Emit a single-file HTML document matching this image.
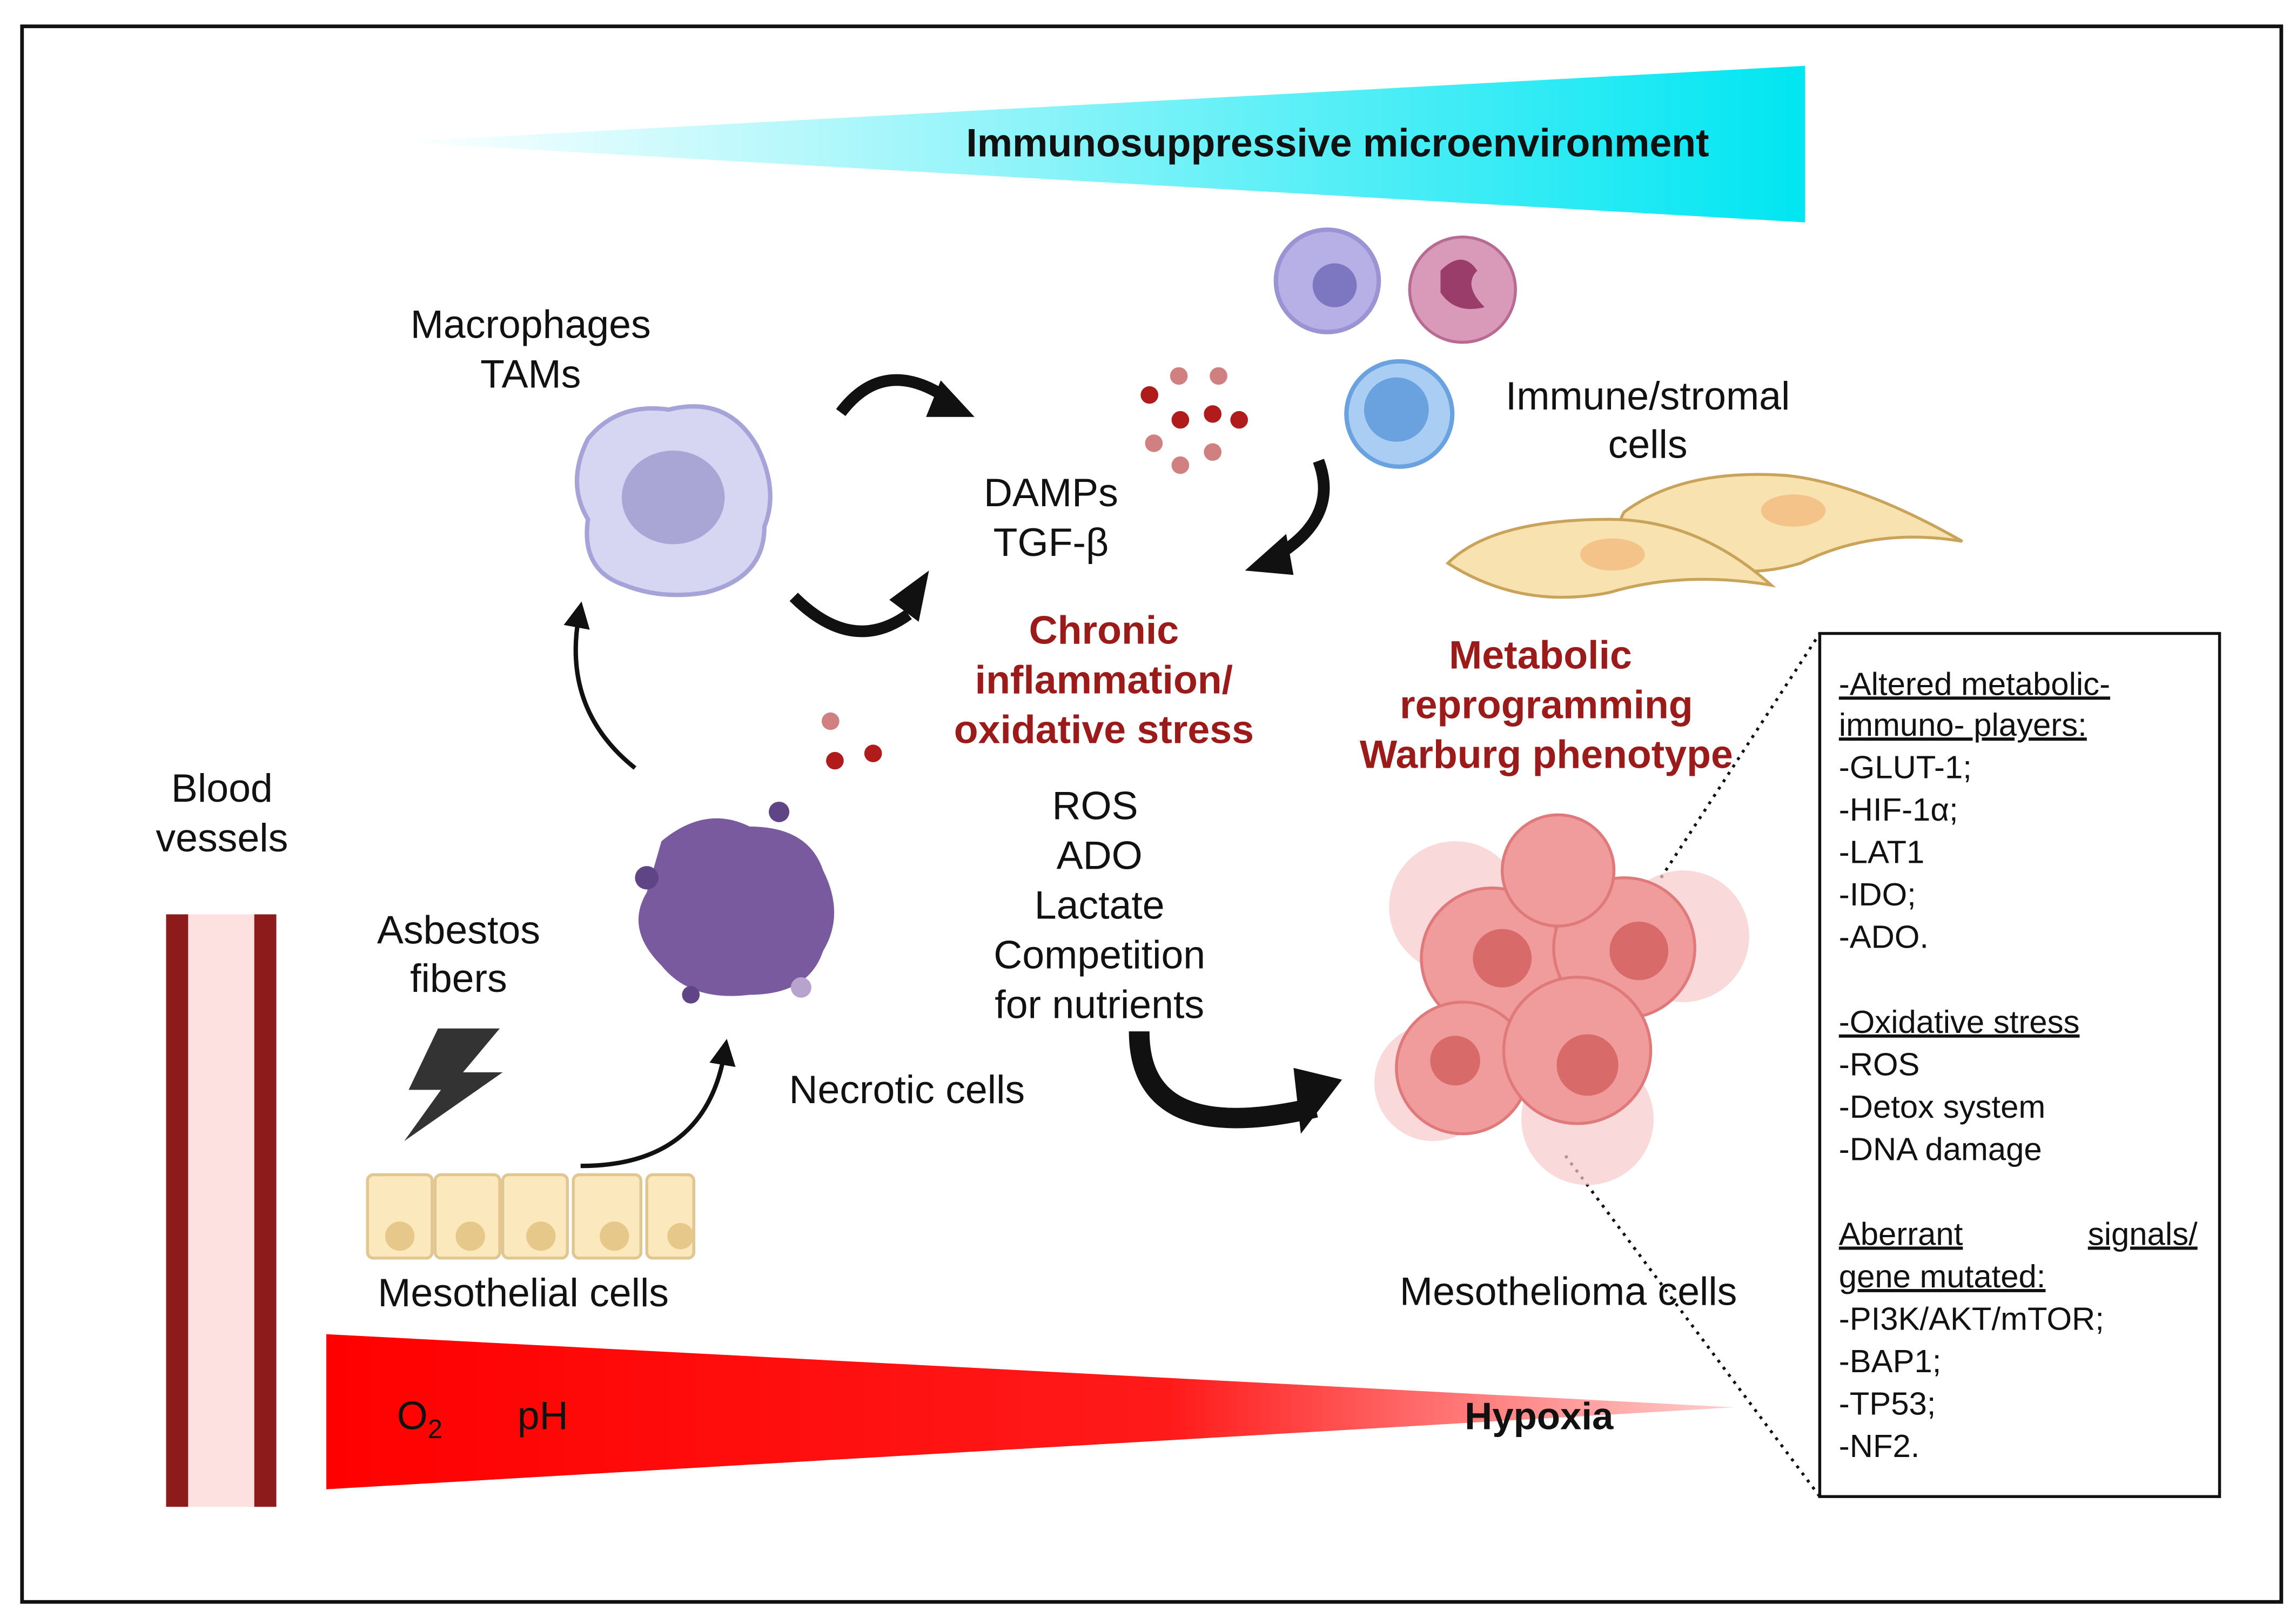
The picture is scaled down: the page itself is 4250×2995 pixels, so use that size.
<!DOCTYPE html>
<html><head><meta charset="utf-8"><style>
html,body{margin:0;padding:0;background:#fff}
svg{display:block}
text{font-family:"Liberation Sans",sans-serif;fill:#111}
</style></head><body>
<svg width="4250" height="2995" viewBox="0 0 1562 1106" preserveAspectRatio="none" xmlns="http://www.w3.org/2000/svg">
<defs>
<linearGradient id="cy" x1="0" x2="1" y1="0" y2="0"><stop offset="0" stop-color="#fff"/><stop offset="1" stop-color="#00e6f2"/></linearGradient>
<linearGradient id="rd" x1="0" x2="1" y1="0" y2="0"><stop offset="0" stop-color="#ff0000"/><stop offset="0.6" stop-color="#ff1a1a"/><stop offset="1" stop-color="#ffd0d0"/></linearGradient>
<marker id="ah" markerWidth="6" markerHeight="6" refX="3" refY="3" orient="auto"><path d="M0,0 L6,3 L0,6 z" fill="#111"/></marker>
</defs>
<rect x="15" y="18" width="1537" height="1077" fill="#fff" stroke="#111" stroke-width="2.5"/>
<polygon points="270,97 1228,45 1228,152" fill="url(#cy)"/>
<text x="910" y="107" font-size="27" font-weight="bold" text-anchor="middle">Immunosuppressive microenvironment</text>
<polygon points="222,912 1180,962 222,1018" fill="url(#rd)"/>
<text x="270" y="977" font-size="27">O<tspan font-size="18" dy="6">2</tspan></text>
<text x="352" y="977" font-size="27">pH</text>
<text x="1047" y="977" font-size="26" font-weight="bold" text-anchor="middle">Hypoxia</text>
<!-- blood vessels -->
<rect x="113" y="625" width="74" height="405" fill="#fde0e0"/>
<rect x="113" y="625" width="15" height="405" fill="#8e1b1b"/>
<rect x="173" y="625" width="15" height="405" fill="#8e1b1b"/>
<text x="151" y="548" font-size="27" text-anchor="middle">Blood</text>
<text x="151" y="582" font-size="27" text-anchor="middle">vessels</text>
<!-- right box -->
<rect x="1238" y="433" width="272" height="590" fill="#fff" stroke="#111" stroke-width="2"/>
<line x1="1130" y1="600" x2="1238" y2="433" stroke="#111" stroke-width="2" stroke-dasharray="2,4"/>
<line x1="1065" y1="790" x2="1238" y2="1023" stroke="#111" stroke-width="2" stroke-dasharray="2,4"/>
<g font-size="22">
<text x="1251" y="475" text-decoration="underline">-Altered  metabolic-</text>
<text x="1251" y="503" text-decoration="underline">immuno- players:</text>
<text x="1251" y="532">-GLUT-1;</text>
<text x="1251" y="561">-HIF-1α;</text>
<text x="1251" y="590">-LAT1</text>
<text x="1251" y="619">-IDO;</text>
<text x="1251" y="648">-ADO.</text>
<text x="1251" y="706" text-decoration="underline">-Oxidative stress</text>
<text x="1251" y="735">-ROS</text>
<text x="1251" y="764">-Detox system</text>
<text x="1251" y="793">-DNA damage</text>
<text x="1251" y="851" text-decoration="underline">Aberrant</text>
<text x="1495" y="851" text-anchor="end" text-decoration="underline">signals/</text>
<text x="1251" y="880" text-decoration="underline">gene mutated:</text>
<text x="1251" y="909">-PI3K/AKT/mTOR;</text>
<text x="1251" y="938">-BAP1;</text>
<text x="1251" y="967">-TP53;</text>
<text x="1251" y="996">-NF2.</text>
</g>
<!-- labels -->
<g font-size="27" text-anchor="middle">
<text x="361" y="231">Macrophages</text>
<text x="361" y="265">TAMs</text>
<text x="715" y="346">DAMPs</text>
<text x="715" y="380">TGF-β</text>
<text x="1121" y="280">Immune/stromal</text>
<text x="1121" y="313">cells</text>
<text x="745" y="560">ROS</text>
<text x="748" y="594">ADO</text>
<text x="748" y="628">Lactate</text>
<text x="748" y="662">Competition</text>
<text x="748" y="696">for nutrients</text>
<text x="312" y="645">Asbestos</text>
<text x="312" y="678">fibers</text>
<text x="617" y="754">Necrotic cells</text>
<text x="356" y="893">Mesothelial cells</text>
<text x="1067" y="892">Mesothelioma cells</text>
</g>
<g font-size="27" font-weight="bold" text-anchor="middle">
<text x="751" y="440" style="fill:#9b1b1b">Chronic</text>
<text x="751" y="474" style="fill:#9b1b1b">inflammation/</text>
<text x="751" y="508" style="fill:#9b1b1b">oxidative stress</text>
<text x="1048" y="457" style="fill:#9b1b1b">Metabolic</text>
<text x="1052" y="491" style="fill:#9b1b1b">reprogramming</text>
<text x="1052" y="525" style="fill:#9b1b1b">Warburg phenotype</text>
</g>
<!-- immune cells -->
<circle cx="903" cy="192" r="35" fill="#b6b0e6" stroke="#9a93d4" stroke-width="3"/>
<circle cx="908" cy="195" r="15" fill="#7d76c0"/>
<circle cx="995" cy="198" r="36" fill="#d89ab8" stroke="#b96a92" stroke-width="2"/>
<path d="M980,185 q15,-15 25,0 q-10,10 5,25 q-20,5 -30,-10z" fill="#9a3d6a"/>
<circle cx="952" cy="283" r="36" fill="#a9cdf3" stroke="#6aa2e0" stroke-width="3"/>
<circle cx="950" cy="280" r="22" fill="#6aa2e0"/>
<!-- fibroblasts -->
<path d="M1105,350 q40,-30 110,-25 q50,5 120,45 q-60,-10 -110,15 q-50,15 -100,-10 q-30,-10 -20,-25z" fill="#f8e3b0" stroke="#c9a35a" stroke-width="2"/>
<ellipse cx="1220" cy="349" rx="22" ry="11" fill="#f4c389"/>
<path d="M985,385 q30,-30 110,-30 q60,0 110,45 q-60,-10 -110,5 q-60,12 -110,-20z" fill="#f8e3b0" stroke="#c9a35a" stroke-width="2"/>
<ellipse cx="1097" cy="379" rx="22" ry="11" fill="#f4c389"/>
<!-- macrophage -->
<path d="M400,300 q20,-25 55,-20 q40,-10 60,25 q15,30 5,55 q0,35 -40,45 q-30,5 -55,-5 q-30,-10 -25,-45 q-15,-25 0,-55z" fill="#d6d5f2" stroke="#a6a3d8" stroke-width="3"/>
<ellipse cx="458" cy="340" rx="35" ry="32" fill="#a9a6d6"/>
<!-- necrotic -->
<path d="M450,575 q30,-25 60,-10 q40,0 50,30 q15,30 0,55 q-10,30 -50,30 q-40,5 -60,-20 q-25,-25 -10,-50z" fill="#7a5a9e"/>
<circle cx="440" cy="600" r="8" fill="#5f4585"/><circle cx="530" cy="555" r="7" fill="#5f4585"/><circle cx="470" cy="680" r="6" fill="#5f4585"/><circle cx="545" cy="675" r="7" fill="#b8a3cc"/>
<!-- dots -->
<g fill="#d08080"><circle cx="802" cy="257" r="6"/><circle cx="829" cy="257" r="6"/><circle cx="785" cy="303" r="6"/><circle cx="803" cy="318" r="6"/><circle cx="825" cy="309" r="6"/><circle cx="565" cy="493" r="6"/></g>
<g fill="#b01c1c"><circle cx="782" cy="270" r="6"/><circle cx="803" cy="287" r="6"/><circle cx="825" cy="283" r="6"/><circle cx="843" cy="287" r="6"/><circle cx="568" cy="520" r="6"/><circle cx="594" cy="515" r="6"/></g>
<!-- mesothelial -->
<g fill="#fbe8bd" stroke="#e0c690" stroke-width="2">
<rect x="250" y="803" width="44" height="57" rx="4"/><rect x="296" y="803" width="44" height="57" rx="4"/><rect x="342" y="803" width="44" height="57" rx="4"/><rect x="390" y="803" width="46" height="57" rx="4"/><rect x="440" y="803" width="32" height="57" rx="4"/>
</g>
<g fill="#e6c98a"><circle cx="272" cy="845" r="10"/><circle cx="320" cy="845" r="10"/><circle cx="368" cy="845" r="10"/><circle cx="418" cy="845" r="10"/><circle cx="463" cy="845" r="9"/></g>
<!-- lightning -->
<polygon points="298,703 340,703 315,733 342,733 275,780 300,745 278,745" fill="#333"/>
<!-- mesothelioma -->
<g fill="#f6c9c9" opacity="0.7"><circle cx="990" cy="620" r="45"/><circle cx="1145" cy="640" r="45"/><circle cx="1080" cy="765" r="45"/><circle cx="975" cy="740" r="40"/></g>
<g fill="#f19c9c" stroke="#e07a7a" stroke-width="2"><circle cx="1015" cy="655" r="48"/><circle cx="1105" cy="648" r="48"/><circle cx="995" cy="730" r="45"/><circle cx="1073" cy="718" r="50"/><circle cx="1060" cy="595" r="38"/></g>
<g fill="#d86a6a"><circle cx="1022" cy="655" r="20"/><circle cx="1115" cy="650" r="20"/><circle cx="990" cy="725" r="17"/><circle cx="1080" cy="728" r="21"/></g>
<!-- arrows -->
<g fill="none" stroke="#111" stroke-width="8">
<path d="M572,282 q30,-40 75,-8"/>
<path d="M540,408 q40,40 78,12"/>
<path d="M897,315 q15,40 -32,67"/>
<path d="M775,705 q0,80 120,52" stroke-width="14"/>
</g>
<g fill="#111">
<polygon points="663,285 640,260 630,285"/>
<polygon points="632,390 605,410 625,425"/>
<polygon points="847,390 875,365 880,393"/>
<polygon points="913,738 880,730 885,775"/>
</g>
<g fill="none" stroke="#111" stroke-width="3" marker-end="url(#ah)">
<path d="M432,525 q-50,-40 -38,-105"/>
<path d="M395,797 q85,0 98,-78"/>
</g>
</svg>
</body></html>
